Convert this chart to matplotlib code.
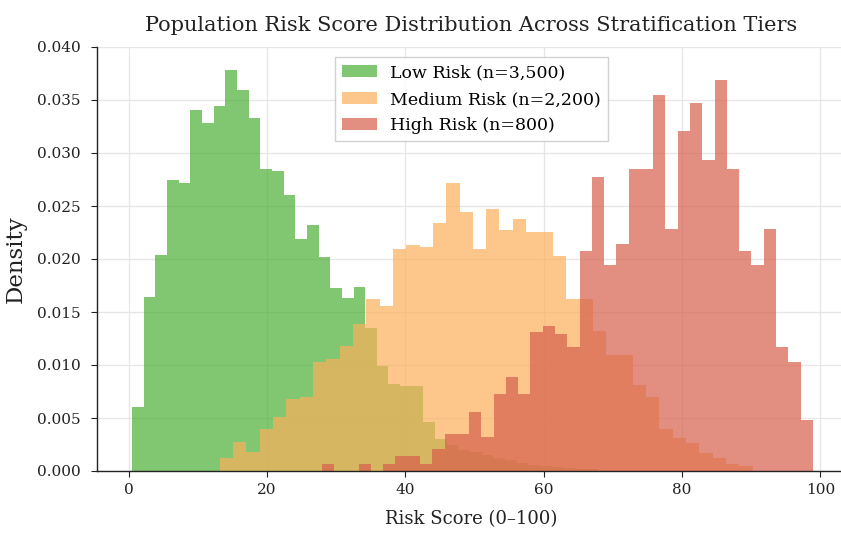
import numpy as np
import matplotlib
matplotlib.use("Agg")
import matplotlib.pyplot as plt

# Per-bin density values for each tier (40 bins each, own score range)
n_bins = 40

low_label = "Low Risk (n=3,500)"
low_range = (0.45, 67.9)
low_density = [0.0060, 0.0164, 0.0204, 0.0275, 0.0272, 0.0341, 0.0328, 0.0344,
               0.0378, 0.0359, 0.0333, 0.0285, 0.0283, 0.0260, 0.0219, 0.0232,
               0.0202, 0.0173, 0.0163, 0.0174, 0.0135, 0.0099, 0.0082, 0.0080,
               0.0080, 0.0046, 0.0030, 0.0025, 0.0020, 0.0018, 0.0015, 0.0012,
               0.0010, 0.0008, 0.0006, 0.0005, 0.0004, 0.0003, 0.0002, 0.0002]

medium_label = "Medium Risk (n=2,200)"
medium_range = (13.13, 90.21)
medium_density = [0.0012, 0.0027, 0.0018, 0.0040, 0.0051, 0.0068, 0.0070, 0.0103,
                  0.0106, 0.0118, 0.0139, 0.0162, 0.0156, 0.0209, 0.0213, 0.0211,
                  0.0234, 0.0272, 0.0244, 0.0209, 0.0247, 0.0227, 0.0238, 0.0225,
                  0.0225, 0.0203, 0.0162, 0.0162, 0.0132, 0.0109, 0.0109, 0.0081,
                  0.0070, 0.0040, 0.0031, 0.0026, 0.0017, 0.0012, 0.0007, 0.0005]

high_label = "High Risk (n=800)"
high_range = (27.9, 98.9)
high_density = [0.0007, 0.0, 0.0, 0.0007, 0.0, 0.0007, 0.0014, 0.0014,
                0.0007, 0.0021, 0.0035, 0.0035, 0.0056, 0.0032, 0.0073, 0.0089,
                0.0073, 0.0131, 0.0137, 0.0129, 0.0117, 0.0208, 0.0277, 0.0194,
                0.0214, 0.0285, 0.0285, 0.0355, 0.0228, 0.0321, 0.0347, 0.0293,
                0.0369, 0.0285, 0.0208, 0.0194, 0.0228, 0.0117, 0.0103, 0.0048]

colors = ["#4cae34", "#fdb05c", "#d6604d"]

plt.rcParams["font.family"] = ["DejaVu Serif"]

fig = plt.figure(figsize=(8.41, 5.37), dpi=100)
ax = fig.add_axes([97 / 841, 66 / 537, 749 / 841, 424 / 537])

series = [
    (low_label, low_range, low_density),
    (medium_label, medium_range, medium_density),
    (high_label, high_range, high_density),
]
for (label, rng, dens), col in zip(series, colors):
    edges = np.linspace(rng[0], rng[1], n_bins + 1)
    centers = 0.5 * (edges[:-1] + edges[1:])
    ax.hist(centers, bins=edges, weights=dens, color=col, alpha=0.7,
            label=label, edgecolor="none")

ax.set_xlim(-4.6, 103.7)
ax.set_ylim(0, 0.040)
ax.set_xticks([0, 20, 40, 60, 80, 100])
ax.set_yticks(np.arange(0, 0.0401, 0.005))

ax.set_axisbelow(True)
ax.grid(True, color="#e6e6e6", linewidth=0.9)
for side in ("top", "right"):
    ax.spines[side].set_visible(False)
for side in ("left", "bottom"):
    ax.spines[side].set_color("#222222")
    ax.spines[side].set_linewidth(1.0)
ax.tick_params(axis="both", labelsize=11, length=4, color="#222222",
               labelcolor="#222222")
ax.tick_params(axis="y", pad=8)
ax.tick_params(axis="x", pad=5)

ax.set_title("Population Risk Score Distribution Across Stratification Tiers",
             fontsize=15, color="#222222", pad=11.5)
ax.set_xlabel("Risk Score (0\u2013100)", fontsize=13, color="#222222",
              labelpad=9)
ax.set_ylabel("Density", fontsize=16.5, color="#222222", labelpad=7)

leg = ax.legend(loc="upper center", fontsize=12.5, frameon=True,
                fancybox=False, edgecolor="#cccccc", framealpha=0.9,
                borderaxespad=0.6, labelspacing=0.55)

fig.savefig("out.png", dpi=100)
